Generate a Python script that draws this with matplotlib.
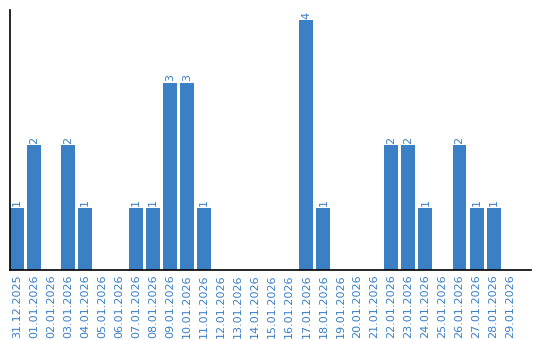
import matplotlib
matplotlib.use("Agg")
import matplotlib.pyplot as plt

dates = [
    "31.12.2025", "01.01.2026", "02.01.2026", "03.01.2026", "04.01.2026",
    "05.01.2026", "06.01.2026", "07.01.2026", "08.01.2026", "09.01.2026",
    "10.01.2026", "11.01.2026", "12.01.2026", "13.01.2026", "14.01.2026",
    "15.01.2026", "16.01.2026", "17.01.2026", "18.01.2026", "19.01.2026",
    "20.01.2026", "21.01.2026", "22.01.2026", "23.01.2026", "24.01.2026",
    "25.01.2026", "26.01.2026", "27.01.2026", "28.01.2026", "29.01.2026",
]
counts = [1, 2, 0, 2, 1, 0, 0, 1, 1, 3, 3, 1, 0, 0, 0,
          0, 0, 4, 1, 0, 0, 0, 2, 2, 1, 0, 2, 1, 1, 0]

BAR_COLOR = "#3b7fc4"
TEXT_COLOR = "#3b7fc4"

fig = plt.figure(figsize=(5.4, 3.4), dpi=100)
ax = fig.add_axes([10 / 540, 70 / 340, 521 / 540, 260 / 340])

x = list(range(len(dates)))
ax.bar(x, counts, width=0.82, color=BAR_COLOR)

for xi, c in zip(x, counts):
    if c > 0:
        ax.text(xi, c + 0.02, str(c), rotation=90, ha="center", va="bottom",
                fontsize=8, color=TEXT_COLOR)

ax.set_xlim(-0.41, 30.2)
ax.set_ylim(0, 4.16)
ax.set_xticks(x)
ax.set_xticklabels(dates, rotation=90, fontsize=8, color=TEXT_COLOR)
ax.tick_params(axis="x", length=0, pad=3)
ax.set_yticks([])

for side in ("top", "right"):
    ax.spines[side].set_visible(False)
ax.spines["left"].set_linewidth(1.2)
ax.spines["bottom"].set_linewidth(1.2)

fig.savefig("out.png", dpi=100)
